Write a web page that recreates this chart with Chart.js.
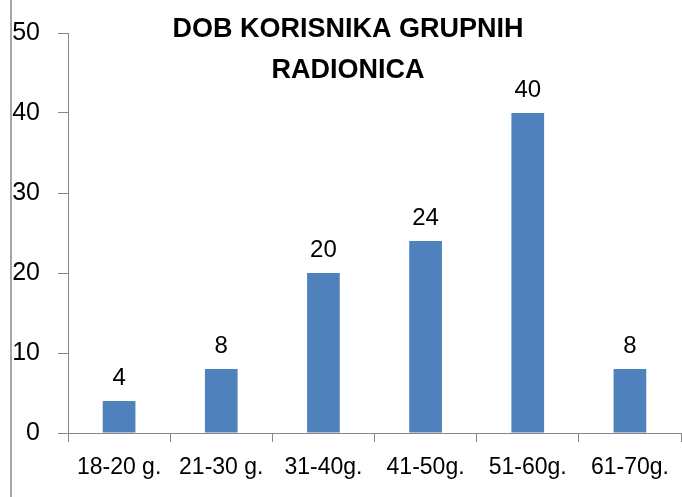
<!DOCTYPE html>
<html>
<head>
<meta charset="utf-8">
<script src="https://cdn.jsdelivr.net/npm/chart.js@4/dist/chart.umd.min.js"></script>
<style>
  html, body { margin: 0; padding: 0; background: #fff; }
  #wrap { position: relative; width: 682px; height: 497px; }
  #edge { position: absolute; left: 10px; top: 0; width: 2px; height: 497px; background: #a6a6a6; }
</style>
</head>
<body>
<div id="wrap">
  <div id="edge"></div>
  <canvas id="grafikon"></canvas>
</div>
<script>
const titleLines = ['DOB KORISNIKA GRUPNIH', 'RADIONICA'];
const ageGroups = ['18-20 g.', '21-30 g.', '31-40g.', '41-50g.', '51-60g.', '61-70g.'];
const userCounts = [4, 8, 20, 24, 40, 8];
const yTicks = [0, 10, 20, 30, 40, 50];

const axisGray = '#868686';
const barBlue = '#4f81bd';

// natpisi vrijednosti iznad stupaca
const valueLabels = {
  id: 'valueLabels',
  afterDatasetsDraw(chart) {
    const ctx = chart.ctx;
    ctx.save();
    ctx.font = '24px "Liberation Sans", Arial, sans-serif';
    ctx.fillStyle = '#000';
    ctx.textAlign = 'center';
    ctx.textBaseline = 'alphabetic';
    chart.getDatasetMeta(0).data.forEach((bar, i) => {
      ctx.fillText(String(userCounts[i]), bar.x, bar.y - 16);
    });
    ctx.restore();
  }
};

// naslov preko gornjeg dijela grafikona
const overlayTitle = {
  id: 'overlayTitle',
  afterDraw(chart) {
    const ctx = chart.ctx;
    ctx.save();
    ctx.font = 'bold 27px "Liberation Sans", Arial, sans-serif';
    ctx.fillStyle = '#000';
    ctx.textAlign = 'center';
    ctx.textBaseline = 'alphabetic';
    titleLines.forEach((line, i) => {
      ctx.fillText(line, 348, 37 + i * 41);
    });
    ctx.restore();
  }
};

const ctx = document.getElementById('grafikon').getContext('2d');
new Chart(ctx, {
  type: 'bar',
  data: {
    labels: ageGroups,
    datasets: [{
      data: userCounts,
      backgroundColor: barBlue,
      borderWidth: 0,
      barPercentage: 0.8,
      categoryPercentage: 0.4
    }]
  },
  options: {
    responsive: true,
    maintainAspectRatio: false,
    animation: false,
    layout: { padding: { top: 33, right: 1, bottom: 0, left: 0 } },
    plugins: {
      legend: { display: false },
      tooltip: { enabled: false }
    },
    scales: {
      x: {
        grid: { drawOnChartArea: false, color: axisGray, tickLength: 9, offset: true },
        border: { color: axisGray, width: 1 },
        ticks: {
          color: '#000',
          padding: 12,
          maxRotation: 0,
          autoSkip: false,
          font: { family: '"Liberation Sans", Arial, sans-serif', size: 23 }
        },
        afterFit: s => { s.height = 64; }
      },
      y: {
        min: 0,
        max: 50,
        afterBuildTicks: s => { s.ticks = yTicks.map(v => ({ value: v })); },
        grid: { drawOnChartArea: false, color: axisGray, tickLength: 10 },
        border: { color: axisGray, width: 1 },
        ticks: {
          color: '#000',
          padding: 18,
          font: { family: '"Liberation Sans", Arial, sans-serif', size: 25 }
        },
        afterFit: s => { s.width = 68; }
      }
    }
  },
  plugins: [valueLabels, overlayTitle]
});
</script>
</body>
</html>
